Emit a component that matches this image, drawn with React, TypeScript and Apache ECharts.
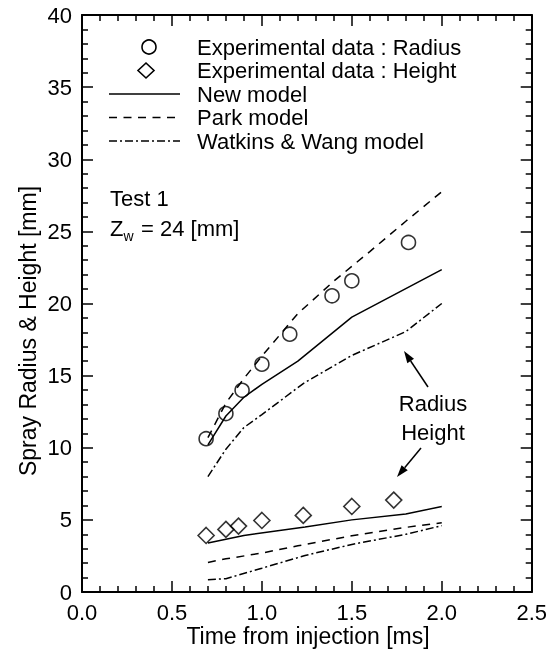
import React, { useEffect, useRef } from "react";
import * as echarts from "echarts";

// ---- data (time in ms, values in mm) ----
const radiusExpT = [0.69, 0.8, 0.89, 1.0, 1.155, 1.39, 1.5, 1.815];
const radiusExpV = [10.63, 12.37, 13.98, 15.79, 17.87, 20.53, 21.57, 24.23];
const heightExpT = [0.69, 0.8, 0.87, 1.0, 1.23, 1.5, 1.733];
const heightExpV = [3.92, 4.34, 4.57, 4.96, 5.31, 5.93, 6.37];

const newRadiusT = [0.7, 0.8, 0.9, 1.0, 1.2, 1.5, 2.0];
const newRadiusV = [10.2, 12.2, 13.5, 14.4, 16.0, 19.05, 22.35];
const parkRadiusT = [0.7, 0.8, 0.9, 1.0, 1.2, 1.4, 1.6, 1.8, 2.0];
const parkRadiusV = [10.7, 13.1, 14.8, 16.35, 19.3, 21.55, 23.6, 25.7, 27.75];
const wwRadiusT = [0.7, 0.8, 0.9, 1.0, 1.23, 1.5, 1.8, 2.0];
const wwRadiusV = [8.0, 9.9, 11.4, 12.3, 14.45, 16.4, 18.05, 20.0];

const newHeightT = [0.7, 0.9, 1.24, 1.5, 1.8, 2.0];
const newHeightV = [3.39, 3.92, 4.5, 5.0, 5.4, 5.93];
const parkHeightT = [0.7, 0.8, 1.0, 1.2, 1.5, 1.8, 2.0];
const parkHeightV = [2.05, 2.3, 2.7, 3.2, 3.9, 4.48, 4.8];
const wwHeightT = [0.7, 0.8, 1.0, 1.24, 1.5, 1.8, 2.0];
const wwHeightV = [0.85, 0.92, 1.65, 2.53, 3.3, 4.0, 4.6];

const seriesNames = [
  "Experimental data : Radius",
  "Experimental data : Height",
  "New model",
  "Park model",
  "Watkins & Wang model",
];

const xMin = 0, xMax = 2.5, xInterval = 0.5;
const yMin = 0, yMax = 40, yInterval = 5;

const FONT = "Liberation Sans, Arial, Helvetica, sans-serif";
const DASH_PARK = [8, 6.5];
const DASH_WW = [8, 3, 2, 3];

const zip = (t: number[], v: number[]) => t.map((x, i) => [x, v[i]]);

function arrow(x1: number, y1: number, x2: number, y2: number) {
  const dx = x2 - x1, dy = y2 - y1;
  const len = Math.sqrt(dx * dx + dy * dy);
  const ux = dx / len, uy = dy / len;
  const hl = 12, hw = 4;
  const bx = x2 - hl * ux, by = y2 - hl * uy;
  const px = -uy, py = ux;
  return [
    { type: "line", shape: { x1, y1, x2: bx, y2: by }, style: { stroke: "#000", lineWidth: 1.5 } },
    {
      type: "polygon",
      shape: { points: [[x2, y2], [bx + hw * px, by + hw * py], [bx - hw * px, by - hw * py]] },
      style: { fill: "#000" },
    },
  ];
}

function txt(text: string, x: number, y: number, size = 22, align = "left") {
  return {
    type: "text", x, y,
    style: { text, fill: "#000", font: `${size}px ${FONT}`, textAlign: align, textVerticalAlign: "middle" },
  };
}

function legendGraphics() {
  const rows = [47, 70.5, 94, 117.5, 141];
  const textX = 197;
  const lx1 = 109, lx2 = 180;
  const els: any[] = [];
  els.push({ type: "circle", shape: { cx: 149, cy: rows[0], r: 7 }, style: { fill: "none", stroke: "#000", lineWidth: 1.6 } });
  els.push({
    type: "polygon",
    shape: { points: [[146, rows[1] - 7.5], [154, rows[1]], [146, rows[1] + 7.5], [138, rows[1]]] },
    style: { fill: "none", stroke: "#000", lineWidth: 1.6 },
  });
  const dashes: any[] = [null, DASH_PARK, DASH_WW];
  for (let i = 0; i < 3; i++) {
    els.push({
      type: "line",
      shape: { x1: lx1, y1: rows[i + 2], x2: lx2, y2: rows[i + 2] },
      style: { stroke: "#000", lineWidth: 1.5, lineDash: dashes[i] || undefined },
    });
  }
  seriesNames.forEach((n, i) => els.push(txt(n, textX, rows[i])));
  return els;
}

export default function App() {
  const ref = useRef<HTMLDivElement>(null);
  useEffect(() => {
    if (!ref.current) return;
    const chart = echarts.init(ref.current, undefined, { renderer: "svg" });
    const lineW = 1.5;
    const axisCommon = {
      axisLine: { show: true, onZero: false, lineStyle: { color: "#000", width: 2 } },
      axisTick: { show: true, inside: true, length: 11, lineStyle: { color: "#000", width: 1.5 } },
      minorTick: { show: true, splitNumber: 5, length: 6, lineStyle: { color: "#000", width: 1.5 } },
      splitLine: { show: false },
    };
    const lineSeries = (name: string, t: number[], v: number[], type: any) => ({
      name,
      type: "line",
      data: zip(t, v),
      symbol: "none",
      lineStyle: { color: "#000", width: lineW, type },
      itemStyle: { color: "#000" },
      z: 2,
    });
    chart.setOption({
      animation: false,
      textStyle: { fontFamily: FONT },
      grid: { left: 82, right: 15, top: 15, bottom: 66 },
      xAxis: [
        {
          type: "value", min: xMin, max: xMax, interval: xInterval, position: "bottom",
          ...axisCommon,
          axisLabel: { color: "#000", fontSize: 22, fontFamily: FONT, margin: 9, formatter: (v: number) => v.toFixed(1) },
        },
        {
          type: "value", min: xMin, max: xMax, interval: xInterval, position: "top",
          ...axisCommon, axisLabel: { show: false },
        },
      ],
      yAxis: [
        {
          type: "value", min: yMin, max: yMax, interval: yInterval, position: "left",
          ...axisCommon,
          axisLabel: { color: "#000", fontSize: 22, fontFamily: FONT, margin: 10 },
        },
        {
          type: "value", min: yMin, max: yMax, interval: yInterval, position: "right",
          ...axisCommon, axisLabel: { show: false },
        },
      ],
      series: [
        {
          name: seriesNames[0], type: "scatter", data: zip(radiusExpT, radiusExpV),
          symbol: "circle", symbolSize: 14,
          itemStyle: { color: "rgba(0,0,0,0)", borderColor: "#000", borderWidth: 1.6 }, z: 3,
        },
        {
          name: seriesNames[1], type: "scatter", data: zip(heightExpT, heightExpV),
          symbol: "diamond", symbolSize: 16,
          itemStyle: { color: "rgba(0,0,0,0)", borderColor: "#000", borderWidth: 1.6 }, z: 3,
        },
        lineSeries(seriesNames[2], newRadiusT, newRadiusV, "solid"),
        lineSeries(seriesNames[2], newHeightT, newHeightV, "solid"),
        lineSeries(seriesNames[3], parkRadiusT, parkRadiusV, DASH_PARK),
        lineSeries(seriesNames[3], parkHeightT, parkHeightV, DASH_PARK),
        lineSeries(seriesNames[4], wwRadiusT, wwRadiusV, DASH_WW),
        lineSeries(seriesNames[4], wwHeightT, wwHeightV, DASH_WW),
      ],
      graphic: [
        txt("Time from injection [ms]", 308, 636, 23, "center"),
        {
          type: "text", x: 28, y: 331, rotation: Math.PI / 2,
          style: { text: "Spray Radius & Height [mm]", fill: "#000", font: `23px ${FONT}`, textAlign: "center", textVerticalAlign: "middle" },
        },
        ...legendGraphics(),
        txt("Test 1", 110, 198),
        txt("Z", 110, 228),
        txt("w", 123.5, 236, 14),
        txt("= 24 [mm]", 141, 228),
        txt("Radius", 433, 403, 22, "center"),
        txt("Height", 433, 432, 22, "center"),
        ...arrow(428, 387, 404, 351),
        ...arrow(421, 448, 397, 477),
      ],
    });
    return () => chart.dispose();
  }, []);
  return <div ref={ref} style={{ position: "fixed", left: 0, top: 0, width: 550, height: 658 }} />;
}
